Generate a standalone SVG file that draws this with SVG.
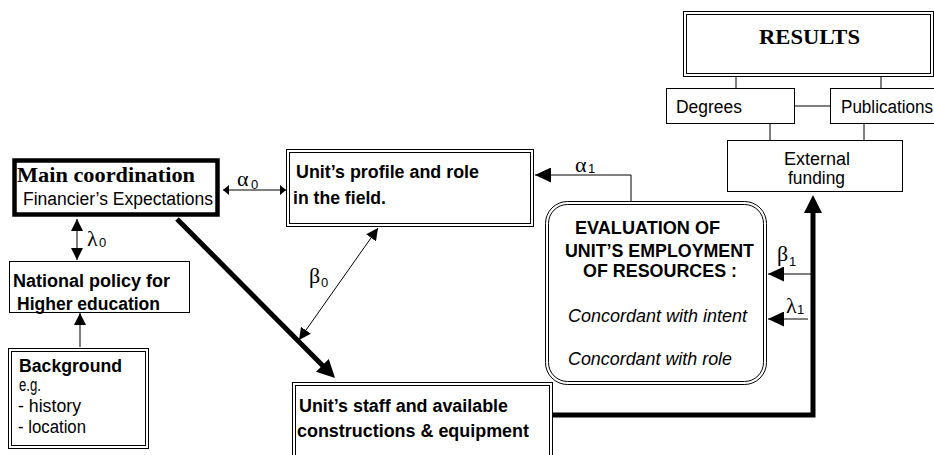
<svg xmlns="http://www.w3.org/2000/svg" width="934" height="455" viewBox="0 0 934 455">
<style>
.box{fill:#fff;stroke:#000;stroke-width:1}
.dbl{fill:none;stroke:#000;stroke-width:1}
.ln{fill:none;stroke:#000;stroke-width:1}
.thick{fill:none;stroke:#000;stroke-width:5}
.sans{font-family:"Liberation Sans",Arial,sans-serif;font-size:18px;fill:#000}
.b{font-weight:bold}
.it{font-style:italic}
.serif{font-family:"Liberation Serif","Times New Roman",serif;fill:#000}
.greek{font-family:"Liberation Serif","Times New Roman",serif;font-size:22px;fill:#000}
.sub{font-family:"Liberation Sans",Arial,sans-serif;font-size:13px;fill:#000}
</style>
<defs>
<marker id="as" viewBox="0 0 6 10" refX="6" refY="5" markerWidth="6" markerHeight="10" markerUnits="userSpaceOnUse" orient="auto-start-reverse"><path d="M0,0 L6,5 L0,10 z"/></marker>
<marker id="am" viewBox="0 0 12 12" refX="12" refY="6" markerWidth="12" markerHeight="12" markerUnits="userSpaceOnUse" orient="auto-start-reverse"><path d="M0,0 L12,6 L0,12 z"/></marker>
<marker id="al" viewBox="0 0 16 15" refX="16" refY="7.5" markerWidth="16" markerHeight="15" markerUnits="userSpaceOnUse" orient="auto-start-reverse"><path d="M0,0 L16,7.5 L0,15 z"/></marker>
<marker id="ab" viewBox="0 0 18 18" refX="8" refY="9" markerWidth="18" markerHeight="18" markerUnits="userSpaceOnUse" orient="auto"><path d="M0,0 L18,9 L0,18 z"/></marker>
</defs>

<g id="connectors">
<line class="ln" x1="736" y1="71" x2="736" y2="88"/>
<line class="ln" x1="881" y1="71" x2="881" y2="88"/>
<line class="ln" x1="795" y1="106" x2="830" y2="106"/>
<line class="ln" x1="770" y1="124" x2="770" y2="140"/>
<line class="ln" x1="864" y1="124" x2="864" y2="140"/>
<line class="ln" x1="223" y1="190" x2="286" y2="190" marker-start="url(#as)" marker-end="url(#as)"/>
<line class="ln" x1="77" y1="219" x2="77" y2="260" marker-start="url(#am)" marker-end="url(#am)"/>
<line class="ln" x1="80" y1="347" x2="80" y2="313" marker-end="url(#am)"/>
<line class="ln" x1="378" y1="228" x2="299" y2="340" marker-start="url(#am)" marker-end="url(#am)"/>
<line class="thick" stroke-width="4" x1="177" y1="219" x2="328" y2="371" marker-end="url(#ab)"/>
<polyline class="ln" points="631,201 631,175 535,175" marker-end="url(#al)"/>
<polyline class="thick" points="545,415 813,415 813,205" marker-end="url(#ab)"/>
<line class="ln" x1="813" y1="274" x2="768" y2="274" marker-end="url(#al)"/>
<line class="ln" x1="808" y1="319" x2="768" y2="319" marker-end="url(#al)"/>
</g>

<g id="labels">
<text class="greek" x="237" y="186">α</text><text class="sub" x="251" y="189">0</text>
<text class="greek" x="87" y="246">λ</text><text class="sub" x="99" y="247">0</text>
<text class="greek" x="309" y="283">β</text><text class="sub" x="321" y="287">0</text>
<text class="greek" x="575" y="172">α</text><text class="sub" x="588" y="173">1</text>
<text class="greek" x="777" y="261">β</text><text class="sub" x="789" y="266">1</text>
<text class="greek" x="786" y="313">λ</text><text class="sub" x="797" y="314">1</text>
</g>

<g id="results">
<rect class="box" x="683.5" y="11.5" width="250" height="65"/>
<rect class="dbl" x="686.5" y="14.5" width="244" height="59"/>
<text class="serif b" x="759" y="44" font-size="22" textLength="101" lengthAdjust="spacingAndGlyphs">RESULTS</text>
</g>

<g id="degrees">
<rect class="box" x="666.5" y="88.5" width="128" height="35"/>
<text class="sans" x="676" y="113" font-size="17" textLength="66" lengthAdjust="spacingAndGlyphs">Degrees</text>
</g>

<g id="publications">
<rect class="box" x="830.5" y="88.5" width="110" height="35"/>
<text class="sans" x="841" y="113" font-size="17" textLength="92" lengthAdjust="spacingAndGlyphs">Publications</text>
</g>

<g id="external">
<rect class="box" x="727.5" y="140.5" width="175" height="51"/>
<text class="sans" x="784" y="165" textLength="66" lengthAdjust="spacingAndGlyphs">External</text>
<text class="sans" x="788" y="184" textLength="57" lengthAdjust="spacingAndGlyphs">funding</text>
</g>

<g id="main">
<rect x="14.5" y="160.5" width="203" height="54" fill="#fff" stroke="#000" stroke-width="4.5"/>
<text class="serif b" x="17" y="182" font-size="21" textLength="178" lengthAdjust="spacingAndGlyphs">Main coordination</text>
<text class="sans" x="23" y="205" textLength="190" lengthAdjust="spacingAndGlyphs">Financier’s Expectations</text>
</g>

<g id="profile">
<rect class="box" x="286.5" y="149.5" width="247" height="77"/>
<rect class="dbl" x="289.5" y="152.5" width="241" height="71"/>
<text class="sans b" x="296" y="178" textLength="183" lengthAdjust="spacingAndGlyphs">Unit’s profile and role</text>
<text class="sans b" x="293" y="204" textLength="93" lengthAdjust="spacingAndGlyphs">in the field.</text>
</g>

<g id="national">
<rect class="box" x="9.5" y="261.5" width="180" height="51"/>
<text class="sans b" x="13" y="287" textLength="157" lengthAdjust="spacingAndGlyphs">National policy for</text>
<text class="sans b" x="17" y="310" textLength="143" lengthAdjust="spacingAndGlyphs">Higher education</text>
</g>

<g id="background">
<rect class="box" x="8.5" y="348.5" width="140" height="100"/>
<rect class="dbl" x="11.5" y="351.5" width="134" height="94"/>
<text class="sans b" x="19" y="372" textLength="103" lengthAdjust="spacingAndGlyphs">Background</text>
<text class="sans" x="19" y="391" font-size="17" textLength="22" lengthAdjust="spacingAndGlyphs">e.g.</text>
<text class="sans" x="18" y="412" textLength="63" lengthAdjust="spacingAndGlyphs">- history</text>
<text class="sans" x="18" y="433" textLength="68" lengthAdjust="spacingAndGlyphs">- location</text>
</g>

<g id="staff">
<rect class="box" x="292.5" y="382.5" width="260" height="80"/>
<rect class="dbl" x="295.5" y="385.5" width="254" height="80"/>
<text class="sans b" x="299" y="412" textLength="209" lengthAdjust="spacingAndGlyphs">Unit’s staff and available</text>
<text class="sans b" x="297" y="437" textLength="232" lengthAdjust="spacingAndGlyphs">constructions &amp; equipment</text>
</g>

<g id="evaluation">
<rect class="box" x="545.5" y="201.5" width="221" height="183" rx="22"/>
<rect class="dbl" x="548.5" y="204.5" width="215" height="177" rx="19"/>
<text class="sans b" x="575" y="234" textLength="145" lengthAdjust="spacingAndGlyphs">EVALUATION OF</text>
<text class="sans b" x="565" y="257" textLength="189" lengthAdjust="spacingAndGlyphs">UNIT’S EMPLOYMENT</text>
<text class="sans b" x="583" y="277" textLength="154" lengthAdjust="spacingAndGlyphs">OF RESOURCES :</text>
<text class="sans it" x="568" y="322" textLength="179" lengthAdjust="spacingAndGlyphs">Concordant with intent</text>
<text class="sans it" x="568" y="365" textLength="164" lengthAdjust="spacingAndGlyphs">Concordant with role</text>
</g>
</svg>
